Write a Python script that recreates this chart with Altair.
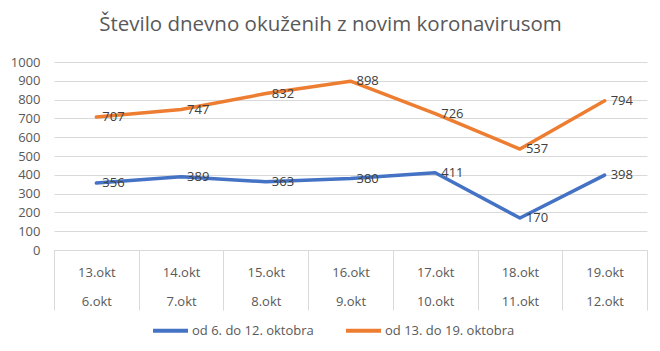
import altair as alt
import pandas as pd

days_top = ["13.okt", "14.okt", "15.okt", "16.okt", "17.okt", "18.okt", "19.okt"]
days_bottom = ["6.okt", "7.okt", "8.okt", "9.okt", "10.okt", "11.okt", "12.okt"]
series_names = ["od 6. do 12. oktobra", "od 13. do 19. oktobra"]
week1 = [356, 389, 363, 380, 411, 170, 398]
week2 = [707, 747, 832, 898, 726, 537, 794]
colors = ["#4472C4", "#ED7D31"]

cats = [f"{a}|{b}" for a, b in zip(days_top, days_bottom)]
rows = []
for c, v in zip(cats, week1):
    rows.append({"dan": c, "serija": series_names[0], "vrednost": v})
for c, v in zip(cats, week2):
    rows.append({"dan": c, "serija": series_names[1], "vrednost": v})
df = pd.DataFrame(rows)

FONT = "Open Sans"
GRAY = "#595959"
GRID = "#D9D9D9"

x = alt.X(
    "dan:N",
    sort=cats,
    scale=alt.Scale(type="band", domain=cats, paddingInner=0, paddingOuter=0),
    axis=alt.Axis(
        title=None,
        labelExpr="split(datum.label, '|')",
        labelAngle=0,
        labelFont=FONT,
        labelFontSize=13,
        labelColor=GRAY,
        labelLineHeight=29,
        labelBaseline="top",
        labelPadding=-44,
        tickBand="extent",
        tickSize=60,
        tickColor=GRID,
        tickWidth=1,
        domainColor=GRID,
        domainWidth=1,
        grid=False,
    ),
)
y = alt.Y(
    "vrednost:Q",
    scale=alt.Scale(domain=[0, 1000], nice=False),
    axis=alt.Axis(
        title=None,
        values=list(range(0, 1001, 100)),
        format="d",
        labelFont=FONT,
        labelFontSize=13,
        labelColor=GRAY,
        labelPadding=14,
        ticks=False,
        domain=False,
        gridColor=GRID,
        gridWidth=1,
    ),
)
color = alt.Color(
    "serija:N",
    scale=alt.Scale(domain=series_names, range=colors),
    legend=alt.Legend(
        title=None,
        orient="none",
        direction="horizontal",
        legendX=97,
        legendY=249,
        symbolType="stroke",
        symbolSize=1225,
        symbolStrokeWidth=4,
        labelFont=FONT,
        labelFontSize=13,
        labelColor=GRAY,
        labelOffset=2,
        columnPadding=24,
    ),
)

lines = alt.Chart(df).mark_line(strokeWidth=3.5, strokeCap="round", strokeJoin="round").encode(
    x=x, y=y, color=color, detail="serija:N"
)
labels = alt.Chart(df).mark_text(
    align="left", baseline="middle", dx=6, font=FONT, fontSize=13, color="#404040"
).encode(x=x, y=y, text="vrednost:Q")

chart = (
    alt.layer(lines, labels)
    .properties(
        width=593,
        height=188,
        title=alt.TitleParams(
            "Število dnevno okuženih z novim koronavirusom",
            font=FONT,
            fontSize=20.5,
            fontWeight="normal",
            color=GRAY,
            anchor="middle",
            dx=-20,
            offset=21,
        ),
        autosize=alt.AutoSizeParams(type="none"),
        padding={"left": 54, "top": 62, "right": 13, "bottom": 101},
    )
    .configure_view(stroke=None)
)

chart.save("out.html", embed_options={"renderer": "svg", "actions": False})
